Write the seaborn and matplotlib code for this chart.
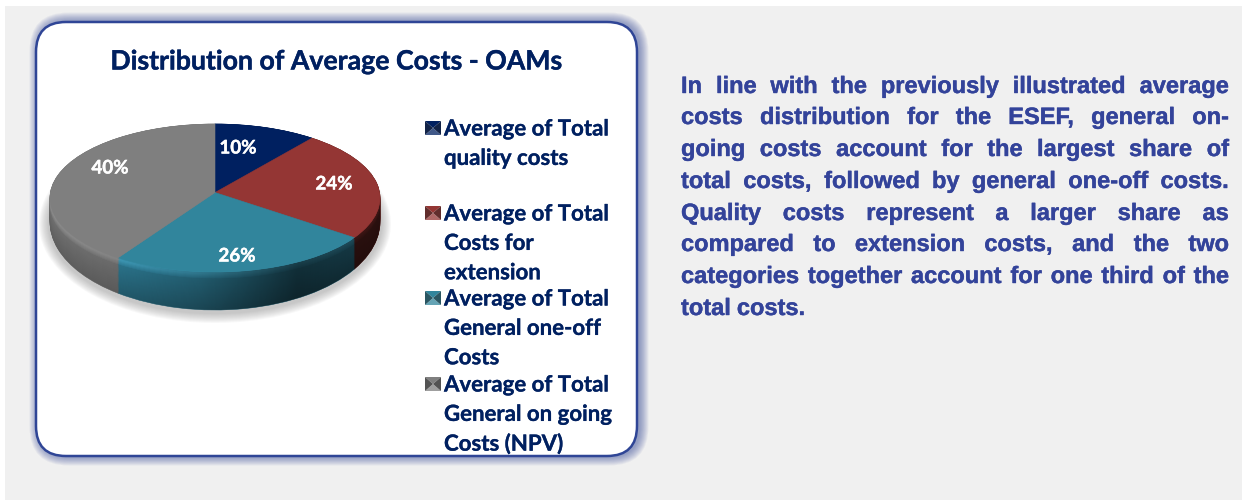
# -*- coding: utf-8 -*-
# average cost distribution for the OAMs, 3D looking pie next to a text block
import numpy as np
import matplotlib
matplotlib.use("Agg")
import matplotlib.pyplot as plt
import matplotlib.patheffects as pe
import seaborn as sns
from matplotlib.patches import FancyBboxPatch, Rectangle, Ellipse, PathPatch, Polygon
from matplotlib.path import Path
from matplotlib.transforms import Affine2D

title = "Distribution of Average Costs - OAMs"
shares = [10, 24, 26, 40]
legend_lines = [
    ["Average of Total", "quality costs"],
    ["Average of Total", "Costs for", "extension"],
    ["Average of Total", "General one-off", "Costs"],
    ["Average of Total", "General on going", "Costs (NPV)"],
]
paragraph = [
    "In line with the previously illustrated average",
    "costs distribution for the ESEF, general on-",
    "going costs account for the largest share of",
    "total costs, followed by general one-off costs.",
    "Quality costs represent a larger share as",
    "compared to extension costs, and the two",
    "categories together account for one third of the",
    "total costs.",
]

face_colors = ["#002060", "#943634", "#31859C", "#7F7F7F"]
rim_colors = ["#001a4d", "#5a2320", "#2f7f99", "#747474"]
low_colors = ["#001a4d", "#4a1c1a", "#245f72", "#5f5f5f"]
bevel_colors = ["#002060", "#7a2c2a", "#3f9dbb", "#8a8a8a"]
navy = "#002060"
border = "#2F4596"
para_color = "#33439A"

sns.set_theme(style="white")
plt.rcParams["font.family"] = ["Lato", "DejaVu Sans"]

fig = plt.figure(figsize=(12.42, 5.01), dpi=100)
ax = fig.add_axes([0, 0, 1, 1])

# grey page and card with a soft blue glow
ax.add_patch(Rectangle((5, 6), 1237, 494, fc="#F0F0F0", ec="none", zorder=0))
for i in range(10, 0, -1):
    ax.add_patch(FancyBboxPatch((66 + 2.5, 52 - 0.5), 541, 374 + 1,
                                boxstyle=f"round,pad={30 + i * 0.9},rounding_size={30 + i * 0.9}",
                                fc=border, ec="none", alpha=0.06, zorder=0.2))
ax.add_patch(FancyBboxPatch((66, 52), 541, 374, boxstyle="round,pad=30,rounding_size=30",
                            fc="white", ec=border, lw=1.8, zorder=0.5))

# pie geometry in pixels
cx, rx = 215, 165
top_cy, top_ry = 198, 74
low_cy, low_ry = 222, 88
apex_lift = 5.5


def draw_pie(colors, cy, ry, z, lift=0):
    wedges, _ = ax.pie(shares, colors=colors, center=(cx, cy), radius=rx, startangle=270,
                       counterclock=True, wedgeprops=dict(linewidth=0.4))
    squash = Affine2D().translate(0, -cy).scale(1, ry / rx).translate(0, cy)
    for w, c in zip(wedges, colors):
        if lift:
            # the apex sits a bit above the middle of the ellipse, like in a perspective view
            v = w.get_path().vertices
            v[np.isclose(v, [cx, cy]).all(axis=1)] = [cx, cy - lift * rx / ry]
        w.set_transform(squash + ax.transData)
        w.set_edgecolor(c)
        w.set_zorder(z)


# shadow under the pie
for i in range(10):
    ax.add_patch(Ellipse((cx, low_cy + 2), 2 * (rx + 11 - i), 2 * (low_ry + 11 - i),
                         fc="#808080", ec="none", alpha=0.05, zorder=0.8))

# side of the disc, stacked slices going from the rim down
n_layers = 40
side = [sns.blend_palette([a, b], n_layers) for a, b in zip(rim_colors, low_colors)]
for k in range(n_layers - 1, -1, -1):
    t = k / (n_layers - 1)
    draw_pie([s[k] for s in side], top_cy + t * (low_cy - top_cy), top_ry + t * (low_ry - top_ry), 1 + (1 - t))

# thin bevel fading into the side
for off, mix in zip([6, 5, 4, 3, 2], [0.2, 0.4, 0.6, 0.8, 1.0]):
    cols = [sns.blend_palette([a, b], 11)[int(mix * 10)] for a, b in zip(rim_colors, bevel_colors)]
    draw_pie(cols, top_cy + off, top_ry, 2.5 + mix / 10)

# darkening to the right, only on the side of the disc
angle = np.linspace(0, np.pi, 200)
edge = np.r_[np.c_[cx + rx * np.cos(angle), low_cy + low_ry * np.sin(angle)],
             np.c_[cx - rx * np.cos(angle), top_cy + top_ry * np.sin(angle)]]
side_path = PathPatch(Path(edge), transform=ax.transData, fc="none", ec="none")
ax.add_patch(side_path)
shade = np.zeros((1, 256, 4))
shade[0, :, 3] = np.interp(np.linspace(0, 1, 256), [0, 0.2, 0.45, 0.75, 1], [0, 0.05, 0.25, 0.62, 0.5])
img = ax.imshow(shade, extent=(cx - rx, cx + rx, low_cy + low_ry, top_cy), aspect="auto", zorder=3)
img.set_clip_path(side_path)

# top of the pie
draw_pie(face_colors, top_cy, top_ry, 4, lift=apex_lift)


def bold(color, width=0.5):
    # Lato bold is a little lighter than the reference font
    return [pe.withStroke(linewidth=width, foreground=color)]


# value labels
label_xy = [(238, 148), (334, 184), (237, 256), (110, 168)]
for v, (x, y) in zip(shares, label_xy):
    ax.text(x, y, f"{v}%", color="white", fontsize=13.5, fontweight="bold",
            ha="center", va="center", zorder=5, path_effects=bold("white", 0.3))

ax.text(336, 61.5, title, color=navy, fontsize=19.2, fontweight="bold", ha="center", va="center",
        zorder=5, path_effects=bold(navy, 0.3))

# legend keys and wrapped labels
legend_top = [129, 214, 299, 385]
line_step = 29.4
for lines, y0, col in zip(legend_lines, legend_top, face_colors):
    x0, x1, y1, y2 = 425, 441, y0 - 8, y0 + 6
    mx, my = (x0 + x1) / 2, (y1 + y2) / 2
    dark = sns.dark_palette(col, 3)[1]
    low = sns.blend_palette([col, "white"], 5)[1]
    ax.add_patch(Polygon([(x0, y1), (x1, y1), (mx, my)], fc=col, ec="none", zorder=5))
    ax.add_patch(Polygon([(x0, y2), (x1, y2), (mx, my)], fc=low, ec="none", zorder=5))
    ax.add_patch(Polygon([(x0, y1), (x0, y2), (mx, my)], fc=dark, ec="none", zorder=5))
    ax.add_patch(Polygon([(x1, y1), (x1, y2), (mx, my)], fc=dark, ec="none", zorder=5))
    for j, line in enumerate(lines):
        ax.text(444, y0 + j * line_step, line, color=navy, fontsize=16, fontweight="bold",
                ha="left", va="center", zorder=5, path_effects=bold(navy, 0.2))

# justified paragraph, one text per word so the gaps can stretch
left, right = 681, 1229
para_y = [86.5, 117.5, 149.5, 181.5, 213.5, 244.5, 276.5, 308.5]
renderer = fig.canvas.get_renderer()
for line, y in zip(paragraph, para_y):
    words = line.split()
    items = [ax.text(0, y, w, color=para_color, fontsize=17, fontweight="bold", family="Liberation Sans",
                     ha="left", va="center", zorder=5, path_effects=bold(para_color, 0.3)) for w in words]
    widths = [t.get_window_extent(renderer).width for t in items]
    if line == paragraph[-1]:
        gap = 6
    else:
        gap = (right - left - sum(widths)) / (len(words) - 1)
    x = left
    for t, wd in zip(items, widths):
        t.set_x(x)
        x += wd + gap

ax.set_aspect("auto")
ax.set_xlim(0, 1242)
ax.set_ylim(501, 0)
ax.set_xticks([])
ax.set_yticks([])
ax.set_frame_on(False)
fig.savefig("out.png", dpi=100, facecolor="white")
